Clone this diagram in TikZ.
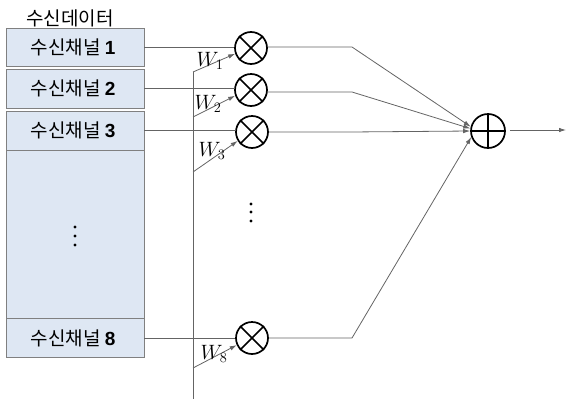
\documentclass[tikz,border=0pt]{standalone}
\usepackage{fontspec}
\newfontfamily\kr{Noto Sans CJK KR}
\newfontfamily\numf{Liberation Sans}
\usetikzlibrary{arrows.meta}
\definecolor{boxfill}{RGB}{222,231,243}
\definecolor{boxline}{RGB}{128,128,128}
\definecolor{wire}{RGB}{100,100,100}
\tikzset{
  chanbox/.style={draw=boxline, fill=boxfill, line width=0.9pt},
  chanlabel/.style={font=\kr\fontsize{19}{19}\selectfont, inner sep=0pt},
  opnode/.style={circle, draw=black, line width=1.7pt, minimum size=32pt, inner sep=0pt},
  wirel/.style={draw=wire, line width=0.8pt},
  wirearrow/.style={wirel, -{Latex[length=7pt,width=4.5pt]}},
  wlabel/.style={font=\fontsize{21}{21}\selectfont, inner sep=0pt},
  dotmark/.style={circle, fill=black, inner sep=0pt, minimum size=3.2pt},
}
\begin{document}
\begin{tikzpicture}[x=1pt,y=-1pt]
\useasboundingbox (0,0) rectangle (567,402);

% receive-data title and channel boxes
\node[chanlabel] (title) at (70,18) {수신데이터};
\draw[chanbox] (6,28) rectangle (144,66);
\draw[chanbox] (6,69) rectangle (144,108);
\draw[chanbox] (6,111) rectangle (144,150);
\draw[chanbox] (6,150) rectangle (144,318);
\draw[chanbox] (6,318) rectangle (144,357);
\coordinate (b1) at (144,47);
\coordinate (b2) at (144,88);
\coordinate (b3) at (144,130);
\coordinate (b8) at (144,338);
\node[chanlabel] (c1) at (73,47) {수신채널 {\numf\bfseries 1}};
\node[chanlabel] (c2) at (73,88) {수신채널 {\numf\bfseries 2}};
\node[chanlabel] (c3) at (73,130) {수신채널 {\numf\bfseries 3}};
\node[chanlabel] (c8) at (73,338) {수신채널 {\numf\bfseries 8}};
\node[dotmark] (ld1) at (75,227) {};
\node[dotmark] (ld2) at (75,236) {};
\node[dotmark] (ld3) at (75,245) {};

% multipliers
\node[opnode] (m1) at (251,48) {};
\node[opnode] (m2) at (251,90) {};
\node[opnode] (m3) at (252,132) {};
\node[opnode] (m8) at (252,338) {};
\foreach \m in {m1,m2,m3,m8}{
  \draw[line width=1.7pt] (\m.45) -- (\m.225) (\m.135) -- (\m.315);
}
\node[dotmark] (md1) at (251,204) {};
\node[dotmark] (md2) at (251,212) {};
\node[dotmark] (md3) at (251,221) {};

% adder
\node[opnode, minimum size=34pt] (add) at (488,131) {};
\draw[line width=1.7pt] (add.north) -- (add.south) (add.west) -- (add.east);

% channel inputs
\draw[wirel] (b1) -- (b1 -| m1.west);
\draw[wirel] (b2) -- (b2 -| m2.west);
\draw[wirel] (b3) -- (b3 -| m3.west);
\draw[wirel] (b8) -- (b8 -| m8.west);

% weight bus and weight arrows
\coordinate (wtop) at (193,72);
\coordinate (wbot) at (193,399);
\draw[wirel] (wtop) -- (wbot);
\coordinate (w1) at (193,72);
\coordinate (w2) at (193,117);
\coordinate (w3) at (193,172);
\coordinate (w8) at (193,368);
\draw[wirearrow] (w1) -- (m1.200);
\draw[wirearrow] (w2) -- (m2.200);
\draw[wirearrow] (w3) -- (m3.212);
\draw[wirearrow] (w8) -- (m8.205);
\node[wlabel] (lw1) at (210,61) {$W_1$};
\node[wlabel] (lw2) at (208,104) {$W_2$};
\node[wlabel] (lw3) at (212,151) {$W_3$};
\node[wlabel] (lw8) at (214,354) {$W_8$};

% products into the adder
\coordinate (k1) at (352,47);
\coordinate (k2) at (352,92);
\coordinate (k3) at (350,132);
\coordinate (k8) at (352,338);
\draw[wirearrow] (m1.east |- k1) -- (k1) -- (add.166);
\draw[wirearrow] (m2.east |- k2) -- (k2) -- (add.172);
\draw[wirearrow] (m3.east |- k3) -- (k3) -- (add.180);
\draw[wirearrow] (m8.east) -- (k8) -- (add.200);

% output
\coordinate (out) at (566,130);
\draw[wirearrow] ([xshift=4pt]add.east |- out) -- (out);
\end{tikzpicture}
\end{document}
